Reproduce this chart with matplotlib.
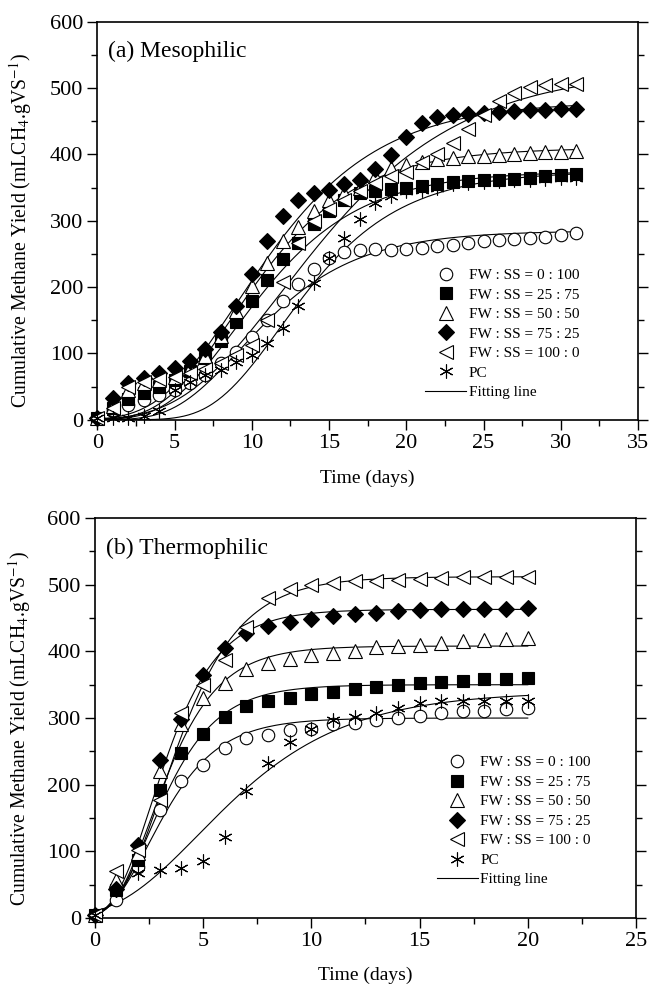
import numpy as np
import matplotlib
matplotlib.use('Agg')
import matplotlib.pyplot as plt
from matplotlib.lines import Line2D
from matplotlib.ticker import MultipleLocator

plt.rcParams['font.family'] = ['Liberation Serif', 'DejaVu Serif']
plt.rcParams['mathtext.fontset'] = 'stix'

labels = ['FW : SS = 0 : 100', 'FW : SS = 25 : 75', 'FW : SS = 50 : 50',
          'FW : SS = 75 : 25', 'FW : SS = 100 : 0', 'PC']

# (a) mesophilic, daily readings
meso_days = np.arange(0, 32)
meso_0_100 = [3, 15, 23, 30, 38, 45, 55, 68, 86, 102, 125, 151, 179, 205, 228, 244,
              253, 256, 257, 256, 258, 259, 262, 264, 267, 269, 271, 272, 274, 276, 278, 281]
meso_25_75 = [3, 18, 31, 40, 50, 60, 73, 93, 118, 148, 179, 211, 242, 267, 295, 315,
              332, 342, 345, 348, 350, 353, 356, 358, 360, 361, 362, 363, 365, 367, 369, 370]
meso_50_50 = [3, 20, 45, 55, 60, 65, 78, 96, 126, 164, 201, 237, 269, 290, 315, 332,
              342, 350, 368, 380, 384, 388, 393, 395, 397, 398, 399, 400, 402, 403, 404, 405]
meso_75_25 = [3, 33, 55, 63, 70, 78, 88, 107, 132, 172, 220, 269, 307, 331, 342, 347,
              355, 362, 378, 399, 427, 448, 457, 460, 461, 462, 464, 465, 467, 467, 468, 468]
meso_100_0 = [3, 18, 50, 57, 62, 65, 70, 76, 85, 98, 113, 150, 207, 267, 300, 318,
              332, 345, 357, 368, 373, 388, 400, 417, 439, 459, 481, 493, 502, 504, 506, 506]
meso_pc = [3, 2, 2, 5, 13, 45, 57, 68, 75, 87, 98, 116, 138, 171, 206, 244,
           274, 302, 327, 337, 345, 347, 350, 355, 357, 359, 360, 361, 362, 363, 364, 365]

# (b) thermophilic
thermo_days = np.arange(0, 21)
thermo_0_100 = [5, 27, 77, 162, 205, 230, 255, 270, 274, 282, 284, 291, 292, 297, 300, 303, 307, 310, 311, 313, 315]
thermo_25_75 = [5, 42, 87, 192, 248, 276, 302, 318, 325, 330, 336, 339, 343, 346, 350, 352, 354, 356, 358, 359, 360]
thermo_50_50 = [5, 57, 97, 220, 291, 330, 352, 373, 382, 389, 394, 398, 401, 406, 408, 410, 413, 415, 417, 418, 420]
thermo_75_25 = [5, 43, 110, 237, 298, 365, 405, 427, 438, 444, 449, 453, 456, 458, 461, 462, 463, 464, 464, 464, 465]
thermo_100_0 = [5, 70, 102, 177, 307, 350, 387, 437, 480, 494, 500, 503, 505, 505, 507, 508, 510, 511, 511, 511, 512]
thermo_pc = [5, 42, 68, 72, 75, 85, 122, 190, 232, 264, 284, 297, 302, 307, 315, 322, 325, 326, 326, 326, 325]

# modified Gompertz fits: P (mL/gVS), Rm (mL/gVS/d), lambda (d)
meso_P = [285, 375, 410, 480, 530, 375]
meso_Rm = [25, 31, 34, 35, 30, 32]
meso_lag = [5.0, 4.5, 4.2, 4.0, 5.5, 7.5]
thermo_P = [300, 350, 408, 463, 512, 340]
thermo_Rm = [62, 75, 88, 100, 95, 33]
thermo_lag = [0.7, 0.8, 0.9, 0.9, 1.1, 1.0]

markers = [
    dict(marker='o', mfc='white', ms=9),
    dict(marker='s', mfc='black', ms=8),
    dict(marker='^', mfc='white', ms=9.5),
    dict(marker='D', mfc='black', ms=8),
    dict(marker='<', mfc='white', ms=9.5),
    dict(marker=(6, 2, 0), mfc='black', ms=10),
]


def gompertz(t, P, Rm, lag):
    return P * np.exp(-np.exp(Rm * np.e / P * (lag - t) + 1))


def panel(ax, days, series, P, Rm, lag, xmax, title, leg_xy):
    t = np.linspace(0, days[-1], 300)
    for p, r, l in zip(P, Rm, lag):
        ax.plot(t, gompertz(t, p, r, l), color='black', lw=0.8)
    handles = []
    for ys, mk, lab in zip(series, markers, labels):
        h, = ax.plot(days, ys, ls='none', color='black', mec='black', mew=0.8,
                     clip_on=False, zorder=3, label=lab, **mk)
        handles.append(h)
    handles.append(Line2D([], [], color='black', lw=0.8, label='Fitting line'))
    ax.legend(handles=handles, loc='center left', bbox_to_anchor=leg_xy,
              frameon=False, fontsize=11, handlelength=2.7, handletextpad=0.15,
              labelspacing=0.38, borderpad=0, borderaxespad=0)
    ax.set_xlim(0, xmax)
    ax.set_ylim(0, 600)
    ax.xaxis.set_major_locator(MultipleLocator(5))
    ax.xaxis.set_minor_locator(MultipleLocator(2.5))
    ax.yaxis.set_major_locator(MultipleLocator(100))
    ax.yaxis.set_minor_locator(MultipleLocator(50))
    ax.tick_params(which='both', direction='out', labelsize=16, width=1, pad=3)
    ax.tick_params(which='major', length=7)
    ax.tick_params(which='minor', length=4)
    ax.tick_params(which='both', right=True, direction='out')
    for s in ax.spines.values():
        s.set_linewidth(1.2)
    ax.set_xlabel('Time (days)', fontsize=14)
    ax.set_ylabel(r'Cumulative Methane Yield (mLCH$_4$.gVS$^{-1}$)', fontsize=14.2)
    ax.text(0.02, 0.925, title, transform=ax.transAxes, fontsize=17, va='center', ha='left')


fig = plt.figure(figsize=(6.49, 9.9), dpi=100)
ax1 = fig.add_axes([0.150, 0.576, 0.833, 0.402])
ax2 = fig.add_axes([0.146, 0.0727, 0.834, 0.404])

panel(ax1, meso_days, [meso_0_100, meso_25_75, meso_50_50, meso_75_25, meso_100_0, meso_pc],
      meso_P, meso_Rm, meso_lag, 35, '(a) Mesophilic', (0.606, 0.216))
panel(ax2, thermo_days, [thermo_0_100, thermo_25_75, thermo_50_50, thermo_75_25, thermo_100_0, thermo_pc],
      thermo_P, thermo_Rm, thermo_lag, 25, '(b) Thermophilic', (0.632, 0.2425))

ax1.xaxis.set_label_coords(0.5, -0.126)
ax1.yaxis.set_label_coords(-0.118, 0.475)
ax2.xaxis.set_label_coords(0.5, -0.1225)
ax2.yaxis.set_label_coords(-0.114, 0.475)

fig.savefig('out.png', dpi=100)
